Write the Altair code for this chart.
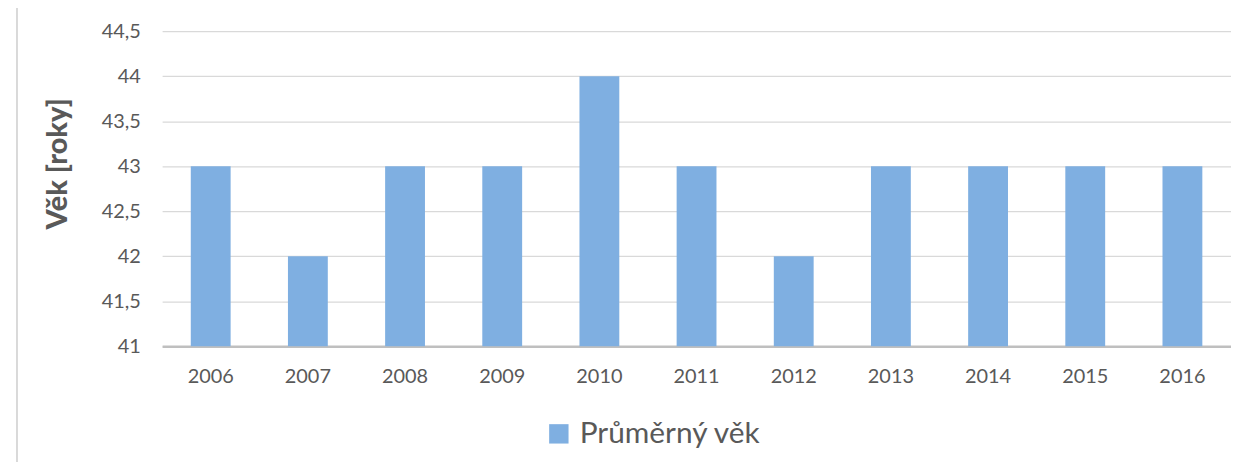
import altair as alt
import pandas as pd

years = ["2006", "2007", "2008", "2009", "2010", "2011", "2012", "2013", "2014", "2015", "2016"]
values = [43, 42, 43, 43, 44, 43, 42, 43, 43, 43, 43]
series_name = "Průměrný věk"
y_ticks = [41, 41.5, 42, 42.5, 43, 43.5, 44, 44.5]

df = pd.DataFrame({"Rok": years, "Věk": values, "Série": [series_name] * len(years)})

FONT = "Lato"
TXT = "#595959"
BAR = "#7FAFE1"

bars = alt.Chart(df).mark_bar(clip=True).encode(
    x=alt.X("Rok:N", sort=years, title=None,
            scale=alt.Scale(paddingInner=0.59, paddingOuter=0.295),
            axis=alt.Axis(labelAngle=0, labelFont=FONT, labelFontSize=20, labelColor=TXT,
                          labelPadding=20, ticks=False, domainColor="#BFBFBF", domainWidth=2.5,
                          grid=False)),
    y=alt.Y("Věk:Q", title="Věk [roky]",
            scale=alt.Scale(domain=[41, 44.5], nice=False, zero=False),
            axis=alt.Axis(values=y_ticks, labelExpr="replace(toString(datum.value), '.', ',')",
                          labelFont=FONT, labelFontSize=20, labelColor=TXT, labelPadding=22,
                          ticks=False, domain=False, gridColor="#D9D9D9", gridWidth=1.2,
                          titleFont=FONT, titleFontSize=29, titleFontWeight=900,
                          titleColor=TXT, titleX=-90, titleY=133, titleAngle=270)),
    color=alt.Color("Série:N", scale=alt.Scale(range=[BAR]),
                    legend=alt.Legend(title=None, orient="none", legendX=384, legendY=390,
                                      symbolType="square", symbolSize=380, symbolStrokeWidth=0,
                                      labelFont=FONT, labelFontSize=30, labelColor=TXT,
                                      labelOffset=6, labelLimit=500)),
)

border = alt.Chart(df).mark_rule(color="#D9D9D9", strokeWidth=1.5, clip=False).encode(
    x=alt.value(-146), y=alt.value(-30), y2=alt.value(462)
)

chart = alt.layer(bars, border).properties(
    width=1075, height=317,
    padding={"left": 155, "top": 22, "right": 0, "bottom": 115},
    autosize=alt.AutoSizeParams(type="none"),
).configure_view(stroke=None)

chart.save("out.html", embed_options={"renderer": "svg", "actions": False})
